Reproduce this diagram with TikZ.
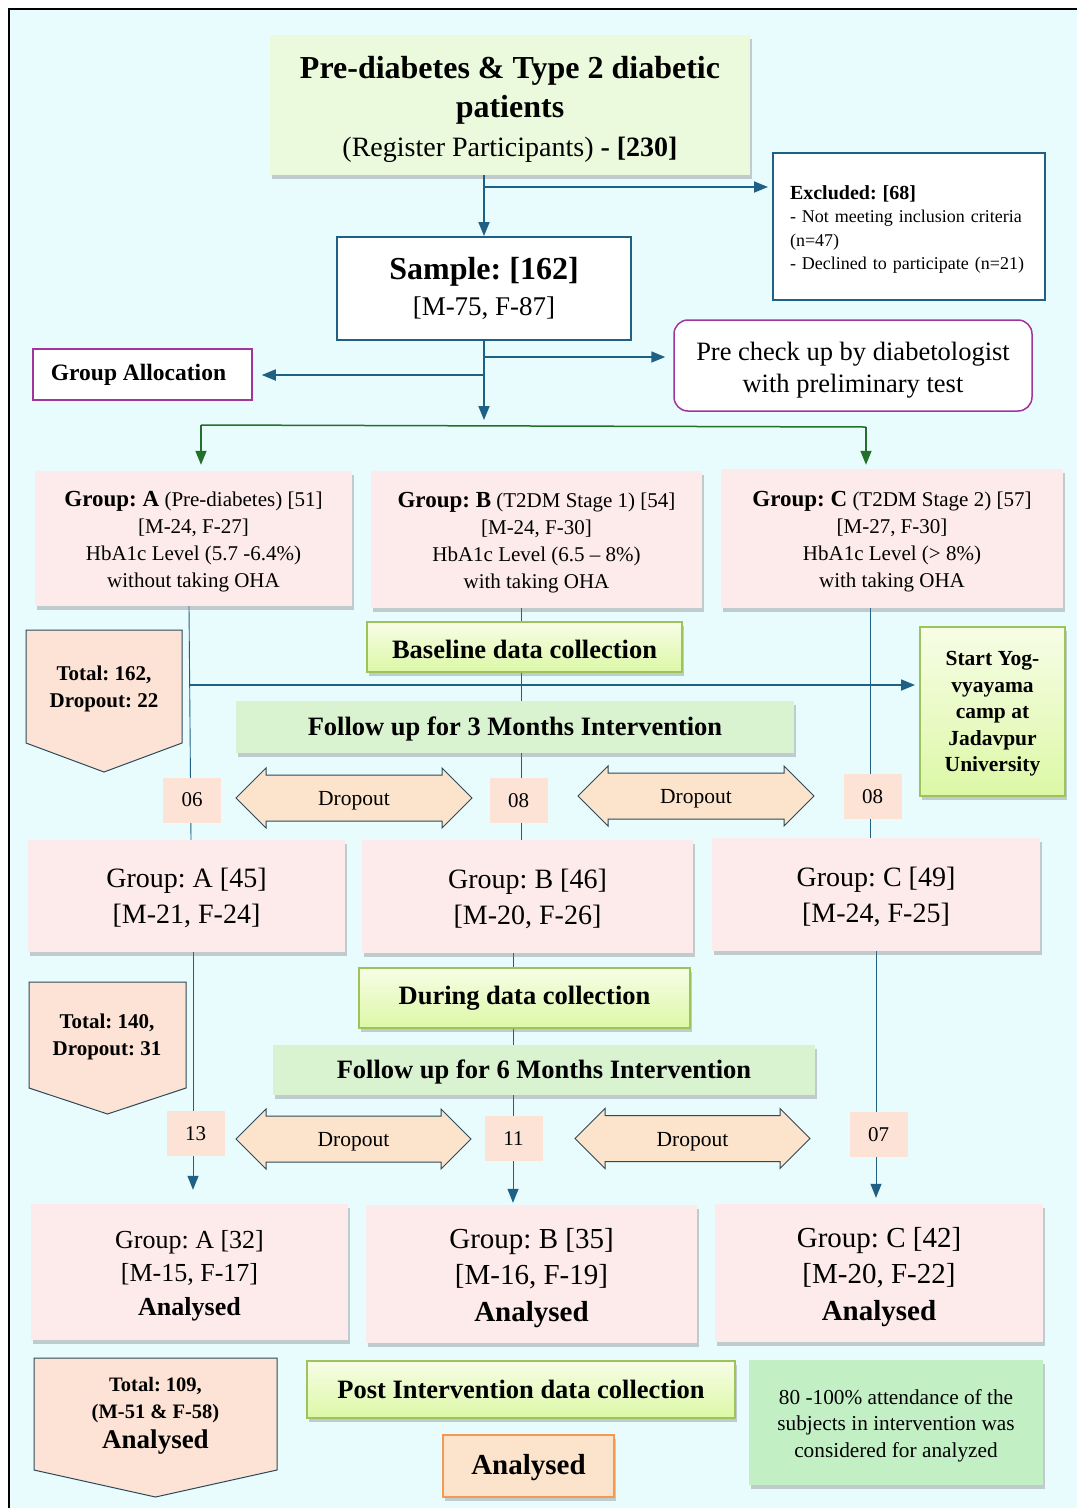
\documentclass[tikz,border=0pt]{standalone}
\usepackage{fontspec}
\setmainfont{Liberation Serif}
\usepackage{tikz}
\usetikzlibrary{positioning,arrows.meta,shadows,calc}
\frenchspacing
\definecolor{bgc}{HTML}{E8FBFD}
\definecolor{lineb}{HTML}{1E6185}
\definecolor{purp}{HTML}{A0359B}
\definecolor{darkg}{HTML}{22702A}
\definecolor{pinkc}{HTML}{FDEAEA}
\definecolor{peach}{HTML}{FCE3D5}
\definecolor{peachd}{HTML}{FCE3CB}
\definecolor{titlec}{HTML}{EBFADC}
\definecolor{folc}{HTML}{D9F2CF}
\definecolor{attc}{HTML}{C3EFC5}
\definecolor{ygtop}{HTML}{F7FDE6}
\definecolor{ygbot}{HTML}{DCF8A6}
\definecolor{ygline}{HTML}{9CC45A}
\definecolor{orng}{HTML}{F29A52}
\definecolor{slate}{HTML}{2C4A5C}
\pgfdeclarelayer{bottom}
\pgfdeclarelayer{back}
\pgfsetlayers{bottom,back,main}
\newcommand{\fsz}[2]{\fontsize{#1pt}{#2pt}\selectfont}
\newcommand{\up}[1]{\rule{0pt}{#1pt}}
\tikzstyle{shad} = [drop shadow={shadow xshift=1.5pt, shadow yshift=-4pt, opacity=0.35, fill=black!55}]
\tikzstyle{pinkbox} = [rectangle, fill=pinkc, shad, align=center]
\tikzstyle{bluebox} = [rectangle, draw=lineb, line width=2pt, fill=white, align=center]
\tikzstyle{purpbox} = [rectangle, draw=purp, line width=1.5pt, fill=white, align=center]
\tikzstyle{ygbox} = [rectangle, draw=ygline, line width=2pt, top color=ygtop, bottom color=ygbot, shad, align=center, font=\bfseries\fsz{26.5}{30}]
\tikzstyle{folbox} = [rectangle, fill=folc, shad, align=center, font=\bfseries\fsz{26.5}{30}]
\tikzstyle{cnt} = [rectangle, fill=peach, minimum width=58pt, minimum height=45pt, font=\fsz{21}{24}]
\tikzstyle{ptxt} = [align=center, font=\bfseries\fsz{21}{27}]
\tikzstyle{barr} = [draw=lineb, line width=1.8pt, -{Triangle[length=14pt,width=11pt]}]
\tikzstyle{garr} = [draw=darkg, line width=1.5pt, -{Triangle[length=14pt,width=11pt]}]
\tikzstyle{vline} = [draw=lineb, line width=0.9pt]
\tikzstyle{pent} = [draw=slate, line width=1pt, fill=peach]
\tikzstyle{dbl} = [draw=slate, line width=1pt, fill=peachd]
\newcommand{\dropout}[4]{%
  \draw[dbl] (#2,#4) -- ({#2+30},{#4-30}) -- ({#2+30},{#4-23}) -- ({#3-30},{#4-23}) -- ({#3-30},{#4-30}) -- (#3,#4) -- ({#3-30},{#4+30}) -- ({#3-30},{#4+23}) -- ({#2+30},{#4+23}) -- ({#2+30},{#4+30}) -- cycle;
  \node[font=\fsz{21.5}{24}] (#1) at ({(#2+#3)/2},#4) {\up{20}Dropout};}
\begin{document}
\begin{tikzpicture}[x=1pt, y=-1pt]
\useasboundingbox (0,0) rectangle (1077,1508);
\node[rectangle, fill=titlec, shad, minimum width=480pt, minimum height=140pt, align=center, font=\fsz{32}{39}] (P) at (510,105)
  {\up{32}\textbf{Pre-diabetes \& Type 2 diabetic}\\ \textbf{patients}\\ {\fsz{28}{39}(Register Participants) \textbf{- [230]}}};
\node[bluebox, align=left, text width=238pt, minimum width=272pt, minimum height=147pt, font=\fsz{18}{23.5}] (E) at (909,226.5)
  {\up{20}{\fsz{20}{23.5}\bfseries Excluded: [68]}\\ - Not meeting inclusion criteria\\ (n=47)\\ - Declined to participate (n=21)};
\node[bluebox, minimum width=294pt, minimum height=103pt, font=\fsz{27}{36}] (S) at (484,288.5)
  {{\fsz{32}{36}\bfseries Sample: [162]}\\{[M-75, F-87]}};
\node[purpbox, minimum width=219pt, minimum height=51pt, font=\bfseries\fsz{23.5}{26}] (GA) at (142.5,374.5) {Group Allocation\hspace{8pt}};
\node[purpbox, rounded corners=14pt, minimum width=358pt, minimum height=91pt, font=\fsz{26.5}{32}] (PC) at (853,365.5)
  {\up{27}Pre check up by diabetologist\\ with preliminary test};
\node[pinkbox, minimum width=317pt, minimum height=135pt, font=\fsz{21}{27}] (A1) at (193.5,538.5)
  {\up{22}{\fsz{23}{27}\bfseries Group: A} (Pre-diabetes) [51]\\{[M-24, F-27]}\\ HbA1c Level (5.7 -6.4\%)\\ without taking OHA};
\node[pinkbox, minimum width=331pt, minimum height=137pt, font=\fsz{21}{27}] (B1) at (536.5,539.5)
  {\up{21}{\fsz{23}{27}\bfseries Group: B} (T2DM Stage 1) [54]\\{[M-24, F-30]}\\ HbA1c Level (6.5 – 8\%)\\ with taking OHA};
\node[pinkbox, minimum width=342pt, minimum height=139pt, font=\fsz{21}{27}] (C1) at (892,538.5)
  {\up{22}{\fsz{23}{27}\bfseries Group: C} (T2DM Stage 2) [57]\\{[M-27, F-30]}\\ HbA1c Level (> 8\%)\\ with taking OHA};
\node[ygbox, minimum width=315pt, minimum height=50pt] (BL) at (524.5,647) {\up{24}Baseline data collection};
\node[ygbox, minimum width=145pt, minimum height=169pt, font=\bfseries\fsz{21.5}{26.5}] (Y) at (992.5,711.5)
  {\up{19}Start Yog-\\ vyayama\\ camp at\\ Jadavpur\\ University};
\node[folbox, minimum width=558pt, minimum height=52pt] (F3) at (515,727) {\up{23}Follow up for 3 Months Intervention};
\draw[pent] (26,630) -- (182,630) -- (182,743) -- (104,772) -- (26,743) -- cycle;
\node[ptxt] (T1) at (104,687) {\up{19}Total: 162,\\ Dropout: 22};
\node[cnt] (N1) at (192,800) {06};
\node[cnt] (N2) at (518.5,800.5) {08};
\node[cnt] (N3) at (872.5,796.5) {08};
\dropout{D1}{236}{472}{798}
\dropout{D2}{578}{814}{796}
\node[pinkbox, minimum width=317pt, minimum height=112pt, font=\fsz{28}{36}] (A2) at (186.5,896) {\up{24}Group: A [45]\\{[M-21, F-24]}};
\node[pinkbox, minimum width=331pt, minimum height=113pt, font=\fsz{28}{36}] (B2) at (527.5,896.5) {\up{24}Group: B [46]\\{[M-20, F-26]}};
\node[pinkbox, minimum width=328pt, minimum height=113pt, font=\fsz{28}{36}] (C2) at (876,894.5) {\up{24}Group: C [49]\\{[M-24, F-25]}};
\node[ygbox, minimum width=331pt, minimum height=60pt] (DC) at (524.5,998) {During data collection};
\node[folbox, minimum width=542pt, minimum height=50pt] (F6) at (544,1070) {\up{22}Follow up for 6 Months Intervention};
\draw[pent] (29,982) -- (186,982) -- (186,1088) -- (107.5,1114) -- (29,1088) -- cycle;
\node[ptxt] (T2) at (107,1035) {\up{19}Total: 140,\\ Dropout: 31};
\node[cnt] (N4) at (195.5,1133.5) {13};
\node[cnt] (N5) at (513.5,1138.5) {11};
\node[cnt] (N6) at (878.5,1134.5) {07};
\dropout{D3}{236}{471}{1139}
\dropout{D4}{575}{810}{1138.5}
\node[pinkbox, minimum width=317pt, minimum height=136pt, font=\fsz{26}{33.5}] (A3) at (189.5,1272) {\up{25}Group: A [32]\\{[M-15, F-17]}\\ \textbf{Analysed}};
\node[pinkbox, minimum width=331pt, minimum height=138pt, font=\fsz{29}{36.5}] (B3) at (531.5,1274) {\up{27.5}Group: B [35]\\{[M-16, F-19]}\\ \textbf{Analysed}};
\node[pinkbox, minimum width=328pt, minimum height=138pt, font=\fsz{29}{36.5}] (C3) at (879,1273) {\up{27.5}Group: C [42]\\{[M-20, F-22]}\\ \textbf{Analysed}};
\draw[pent] (34,1358) -- (277,1358) -- (277,1470) -- (155.5,1497) -- (34,1470) -- cycle;
\node[ptxt, font=\bfseries\fsz{20.5}{27}] (T3) at (155.5,1412) {\up{21}Total: 109,\\ (M-51 \& F-58)\\[3pt] {\fsz{27}{30}Analysed}};
\node[ygbox, minimum width=428pt, minimum height=57pt] (PI) at (521,1389.5) {Post Intervention data collection};
\node[rectangle, fill=peachd, draw=orng, line width=2pt, shad, minimum width=171pt, minimum height=62pt, font=\bfseries\fsz{29}{32}] (AN) at (528.5,1466) {\up{24}Analysed};
\node[rectangle, fill=attc, shad, minimum width=294pt, minimum height=125pt, align=center, font=\fsz{21.3}{26.5}] (AT) at (896,1422.5)
  {\up{21}80 -100\% attendance of the\\ subjects in intervention was\\ considered for analyzed};
\coordinate (b1) at (484,187);
\coordinate (b2) at (484,357);
\coordinate (b3) at (484,375);
\coordinate (gl) at (201,425);
\coordinate (gr) at (866,427);
\coordinate (ya) at (189,685);
\draw[barr] (S.north |- P.south) -- (S.north);
\draw[barr, shorten >=4pt] (b1) -- (E.west |- b1);
\draw[barr, shorten >=5pt] (S.south) -- (S.south |- gl);
\draw[barr, shorten >=8pt] (b2) -- (PC.west |- b2);
\draw[barr, shorten >=9pt] (b3) -- (GA.east |- b3);
\draw[darkg, line width=1.5pt] (gl) -- (gr);
\draw[garr, shorten >=6pt] (gl) -- (gl |- A1.north);
\draw[garr, shorten >=4pt] (gr) -- (gr |- C1.north);
\draw[barr, shorten >=4pt] (ya) -- (Y.west |- ya);
\begin{pgfonlayer}{bottom}
\fill[bgc] (9,9) rectangle (1077,1508);
\draw[line width=1.5pt] (9,1508) -- (9,9) -- (1077,9);
\end{pgfonlayer}
\begin{pgfonlayer}{back}
\draw[vline] ([xshift=-4.5pt]A1.south) -- ([xshift=4.5pt]A2.north);
\draw[vline] ([xshift=-15.5pt]B1.south) -- ([xshift=-6.5pt]B2.north);
\draw[vline] ([xshift=-22pt]C1.south) -- ([xshift=-6pt]C2.north);
\draw[barr, line width=1pt, shorten >=14pt] ([xshift=6.5pt]A2.south) -- ([xshift=3.5pt]A3.north);
\draw[barr, line width=1pt, shorten >=2pt] ([xshift=-14.5pt]B2.south) -- ([xshift=-18.5pt]B3.north);
\draw[barr, line width=1pt, shorten >=6pt] (C2.south) -- ([xshift=-3pt]C3.north);
\end{pgfonlayer}
\end{tikzpicture}
\end{document}
